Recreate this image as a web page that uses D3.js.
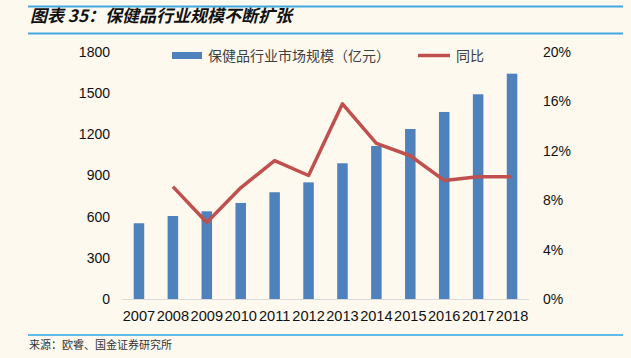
<!DOCTYPE html>
<html>
<head>
<meta charset="utf-8">
<script src="https://cdn.jsdelivr.net/npm/d3@7"></script>
<style>
  body { margin: 0; background: #fdf9ef; }
  svg { display: block; }
</style>
</head>
<body>
<div id="chart"></div>
<script>
// data
var years = ['2007','2008','2009','2010','2011','2012','2013','2014','2015','2016','2017','2018'];
var marketSize = [552, 605, 639, 700, 778, 850, 989, 1115, 1239, 1363, 1492, 1642];
var growth = [null, 9.1, 6.2, 9.0, 11.2, 10.0, 15.8, 12.6, 11.6, 9.6, 9.9, 9.9];
var leftTicks = [0, 300, 600, 900, 1200, 1500, 1800];
var rightTicks = [0, 4, 8, 12, 16, 20];

var W = 631, H = 358;
var svg = d3.select('#chart').append('svg')
  .attr('width', W)
  .attr('height', H);

svg.append('rect').attr('width', W).attr('height', H).attr('fill', '#fdf9ef');

// title band
svg.append('line').attr('x1', 28).attr('x2', 623).attr('y1', 6.5).attr('y2', 6.5)
  .attr('stroke', '#41a9e1').attr('stroke-width', 2);
svg.append('line').attr('x1', 28).attr('x2', 623).attr('y1', 33.5).attr('y2', 33.5)
  .attr('stroke', '#41a9e1').attr('stroke-width', 2);
svg.append('text')
  .attr('x', 30).attr('y', 22)
  .attr('font-family', '"Noto Sans CJK SC", sans-serif')
  .attr('font-size', 17).attr('font-weight', 'bold').attr('font-style', 'italic')
  .attr('fill', '#111')
  .text('图表 35：保健品行业规模不断扩张');

// footer
svg.append('line').attr('x1', 28).attr('x2', 623).attr('y1', 335).attr('y2', 335)
  .attr('stroke', '#2aa6e8').attr('stroke-width', 1.5);
svg.append('text')
  .attr('x', 29).attr('y', 349)
  .attr('font-family', '"Noto Sans CJK SC", sans-serif')
  .attr('font-size', 11).attr('fill', '#333')
  .text('来源：欧睿、国金证券研究所');

// scales
var x = d3.scaleBand().domain(years).range([122, 529]).paddingInner(0.69).paddingOuter(0.345);
var yL = d3.scaleLinear().domain([0, 1800]).range([299, 52]);
var yR = d3.scaleLinear().domain([0, 20]).range([299, 52]);

var tickFont = '"Liberation Sans", Arial, sans-serif';

// bars
svg.selectAll('rect.bar').data(marketSize)
  .enter().append('rect')
  .attr('class', 'bar')
  .attr('x', function (d, i) { return x(years[i]); })
  .attr('width', x.bandwidth())
  .attr('y', function (d) { return yL(d); })
  .attr('height', function (d) { return yL(0) - yL(d); })
  .attr('fill', '#4f81bd');

// x axis baseline
svg.append('line').attr('x1', 122).attr('x2', 529).attr('y1', 299.5).attr('y2', 299.5)
  .attr('stroke', '#d9d9d9').attr('stroke-width', 1);

// left axis
var gL = svg.append('g').attr('transform', 'translate(110,0)')
  .call(d3.axisLeft(yL).tickValues(leftTicks).tickSize(0).tickPadding(0).tickFormat(d3.format('d')));
gL.select('.domain').remove();
gL.selectAll('text').attr('font-family', tickFont).attr('font-size', 14).attr('fill', '#111');

// right axis
var gR = svg.append('g').attr('transform', 'translate(543,0)')
  .call(d3.axisRight(yR).tickValues(rightTicks).tickSize(0).tickPadding(0)
    .tickFormat(function (d) { return d + '%'; }));
gR.select('.domain').remove();
gR.selectAll('text').attr('font-family', tickFont).attr('font-size', 14).attr('fill', '#111');

// bottom axis
var gB = svg.append('g').attr('transform', 'translate(0,303)')
  .call(d3.axisBottom(x).tickSize(0).tickPadding(8));
gB.select('.domain').remove();
gB.selectAll('text').attr('font-family', tickFont).attr('font-size', 14.6).attr('fill', '#111');

// growth line
var line = d3.line()
  .defined(function (d) { return d != null; })
  .x(function (d, i) { return x(years[i]) + x.bandwidth() / 2; })
  .y(function (d) { return yR(d); });
svg.append('path').datum(growth)
  .attr('d', line)
  .attr('fill', 'none')
  .attr('stroke', '#c0504d')
  .attr('stroke-width', 3.5)
  .attr('stroke-linejoin', 'round');

// legend
var lg = svg.append('g');
lg.append('rect').attr('x', 172).attr('y', 52).attr('width', 30).attr('height', 7).attr('fill', '#4f81bd');
lg.append('text').attr('x', 208).attr('y', 61)
  .attr('font-family', '"Noto Sans CJK SC", sans-serif').attr('font-size', 14).attr('fill', '#404040')
  .text('保健品行业市场规模（亿元）');
lg.append('line').attr('x1', 418).attr('x2', 450).attr('y1', 55.5).attr('y2', 55.5)
  .attr('stroke', '#c0504d').attr('stroke-width', 3.5);
lg.append('text').attr('x', 456).attr('y', 61)
  .attr('font-family', '"Noto Sans CJK SC", sans-serif').attr('font-size', 14).attr('fill', '#404040')
  .text('同比');
</script>
</body>
</html>
